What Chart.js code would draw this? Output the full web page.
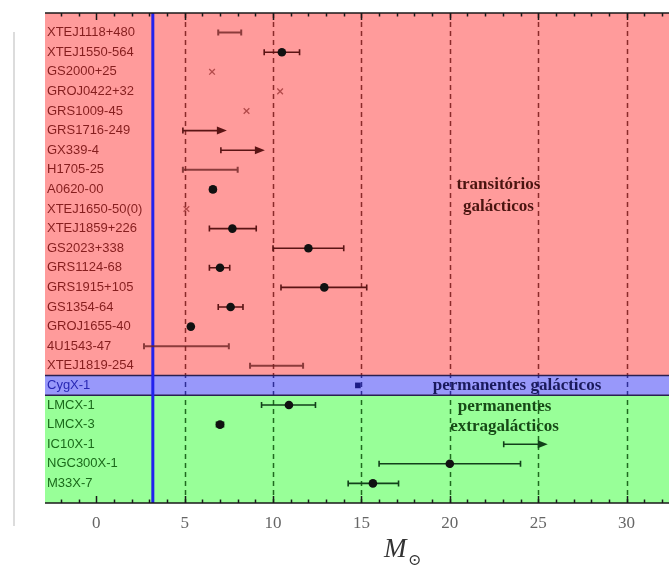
<!DOCTYPE html>
<html>
<head>
<meta charset="utf-8">
<script src="https://cdn.jsdelivr.net/npm/chart.js@4"></script>
<style>
  html, body { margin: 0; padding: 0; background: #fff; }
  #wrap { width: 669px; height: 572px; }
</style>
</head>
<body>
<div id="wrap"><canvas id="massChart" width="669" height="572"></canvas></div>
<script>
// Sources, top to bottom
const sources = ["XTEJ1118+480", "XTEJ1550-564", "GS2000+25", "GROJ0422+32", "GRS1009-45",
  "GRS1716-249", "GX339-4", "H1705-25", "A0620-00", "XTEJ1650-50(0)", "XTEJ1859+226",
  "GS2023+338", "GRS1124-68", "GRS1915+105", "GS1354-64", "GROJ1655-40", "4U1543-47",
  "XTEJ1819-254", "CygX-1", "LMCX-1", "LMCX-3", "IC10X-1", "NGC300X-1", "M33X-7"];
// rows per group: galactic transients, galactic persistent, extragalactic persistent
const groupSizes = [18, 1, 5];
const groupNames = [["transitórios", "galácticos"], ["permanentes galácticos"], ["permanentes", "extragalácticos"]];

// masses in solar masses (null = none)
const massBest = [null, 10.5, null, null, null, null, null, null, 6.6, null, 7.7,
  12.0, 7.0, 12.9, 7.6, 5.35, null, null, 14.8, 10.9, 7.0, null, 20.0, 15.65];
const massLow = [6.9, 9.5, null, null, null, null, null, 4.9, 6.45, null, 6.4,
  10.0, 6.4, 10.45, 6.9, 5.25, 2.7, 8.7, null, 9.35, 6.8, null, 16.0, 14.25];
const massHigh = [8.2, 11.5, null, null, null, null, null, 8.0, 6.75, null, 9.05,
  14.0, 7.55, 15.3, 8.3, 5.45, 7.5, 11.7, null, 12.4, 7.2, null, 24.0, 17.1];
// rough estimates (x marks)
const massRough = [null, null, 6.55, 10.4, 8.5, null, null, null, null, 5.1, null,
  null, null, null, null, null, null, null, null, null, null, null, null, null];
// lower limits (arrows)
const massLowerLimit = [null, null, null, null, null, 4.9, 7.05, null, null, null, null,
  null, null, null, null, null, null, null, null, null, null, 23.05, null, null];
// maximum neutron star mass
const nsMaxMass = 3.2;
const xTicks = [0, 5, 10, 15, 20, 25, 30];

// styles
const bandColors = ["#ff9b9b", "#9898fa", "#98ff98"];
const labelColors = ["#851e1e", "#2828b4", "#1b6a1b"];
const dashColors = ["#8a2a2a", "#2e2e96", "#1f6a1f"];
const barColors = ["#5a1414", "#14145a", "#12401a"];
const textColors = ["#4a1510", "#1a1a5c", "#174a17"];

function groupOf(i) {
  let acc = 0;
  for (let g = 0; g < groupSizes.length; g++) {
    acc += groupSizes[g];
    if (i < acc) return g;
  }
  return groupSizes.length - 1;
}

function toPoints(arr) {
  const out = [];
  arr.forEach((m, i) => { if (m != null) out.push({ x: m, y: i }); });
  return out;
}

const decor = {
  id: "decor",
  beforeDraw(chart) {
    const { ctx, chartArea: a, scales: { x, y } } = chart;
    ctx.save();
    // faint line at far left
    ctx.strokeStyle = "#dcdcdc";
    ctx.lineWidth = 2;
    ctx.beginPath(); ctx.moveTo(14, 32); ctx.lineTo(14, 526); ctx.stroke();

    // group bands
    let start = 0;
    const edges = [];
    groupSizes.forEach((n, g) => {
      const top = g === 0 ? a.top : y.getPixelForValue(start - 0.5);
      const bot = g === groupSizes.length - 1 ? a.bottom : y.getPixelForValue(start + n - 0.5);
      edges.push([top, bot]);
      ctx.fillStyle = bandColors[g];
      ctx.fillRect(a.left, top, a.right - a.left, bot - top);
      start += n;
    });

    // dashed verticals, coloured per band
    edges.forEach(([top, bot], g) => {
      ctx.save();
      ctx.beginPath(); ctx.rect(a.left, top, a.right - a.left, bot - top); ctx.clip();
      ctx.strokeStyle = dashColors[g];
      ctx.lineWidth = 1.5;
      ctx.setLineDash([5, 4]);
      xTicks.forEach(v => {
        if (v === 0) return;
        const px = Math.round(x.getPixelForValue(v)) + 0.5;
        ctx.beginPath(); ctx.moveTo(px, a.top); ctx.lineTo(px, a.bottom); ctx.stroke();
      });
      ctx.restore();
    });

    // band boundaries
    ctx.strokeStyle = "#2a2050";
    ctx.lineWidth = 1.5;
    edges.slice(1).forEach(([top]) => {
      ctx.beginPath(); ctx.moveTo(a.left, top); ctx.lineTo(a.right, top); ctx.stroke();
    });
    ctx.restore();
  },
  beforeDatasetsDraw(chart) {
    const { ctx, chartArea: a, scales: { x, y } } = chart;
    ctx.save();
    // neutron star limit
    const nx = x.getPixelForValue(nsMaxMass);
    ctx.strokeStyle = "#2222ee";
    ctx.lineWidth = 3;
    ctx.beginPath(); ctx.moveTo(nx, a.top); ctx.lineTo(nx, a.bottom); ctx.stroke();

    // error bars / ranges
    sources.forEach((s, i) => {
      if (massLow[i] == null) return;
      const g = groupOf(i);
      const py = y.getPixelForValue(i);
      const x0 = x.getPixelForValue(massLow[i]);
      const x1 = x.getPixelForValue(massHigh[i]);
      const rangeOnly = massBest[i] == null;
      ctx.strokeStyle = rangeOnly ? "rgba(110,35,35,0.8)" : barColors[g];
      ctx.lineWidth = rangeOnly ? 2 : 1.6;
      ctx.beginPath();
      ctx.moveTo(x0, py); ctx.lineTo(x1, py);
      ctx.moveTo(x0, py - 3); ctx.lineTo(x0, py + 3);
      ctx.moveTo(x1, py - 3); ctx.lineTo(x1, py + 3);
      ctx.stroke();
    });

    // lower limits
    sources.forEach((s, i) => {
      if (massLowerLimit[i] == null) return;
      const g = groupOf(i);
      const py = y.getPixelForValue(i);
      const x0 = x.getPixelForValue(massLowerLimit[i]);
      const x1 = x0 + 44;
      ctx.strokeStyle = barColors[g];
      ctx.fillStyle = barColors[g];
      ctx.lineWidth = 1.6;
      ctx.beginPath();
      ctx.moveTo(x0, py); ctx.lineTo(x1 - 8, py);
      ctx.moveTo(x0, py - 3); ctx.lineTo(x0, py + 3);
      ctx.stroke();
      ctx.beginPath();
      ctx.moveTo(x1, py); ctx.lineTo(x1 - 10, py - 4); ctx.lineTo(x1 - 10, py + 4);
      ctx.closePath(); ctx.fill();
    });

    // frame and ticks top / bottom
    ctx.strokeStyle = "#1a1a1a";
    ctx.lineWidth = 1.5;
    ctx.beginPath();
    ctx.moveTo(a.left, a.top); ctx.lineTo(a.right, a.top);
    ctx.moveTo(a.left, a.bottom); ctx.lineTo(a.right, a.bottom);
    for (let v = Math.ceil(x.min); v <= Math.floor(x.max); v++) {
      const px = Math.round(x.getPixelForValue(v)) + 0.5;
      const len = v % 5 === 0 ? 7 : 3.5;
      ctx.moveTo(px, a.top); ctx.lineTo(px, a.top + len);
      ctx.moveTo(px, a.bottom); ctx.lineTo(px, a.bottom - len);
    }
    ctx.stroke();
    ctx.restore();
  },
  afterDraw(chart) {
    const { ctx, scales: { x, y } } = chart;
    ctx.save();
    ctx.textAlign = "center";
    ctx.textBaseline = "middle";
    // group annotations
    const notes = [
      { g: 0, at: [22.75, 7.77], lh: 1.12 },
      { g: 1, at: [23.8, 18.0], lh: 1 },
      { g: 2, at: [23.1, 19.1], lh: 1.02 }
    ];
    ctx.font = 'bold 17px "Liberation Serif"';
    notes.forEach(n => {
      ctx.fillStyle = textColors[n.g];
      groupNames[n.g].forEach((t, k) => {
        ctx.fillText(t, x.getPixelForValue(n.at[0]), y.getPixelForValue(n.at[1] + k * n.lh));
      });
    });
    // axis title M_sun
    ctx.fillStyle = "#333";
    ctx.textAlign = "left";
    ctx.font = 'italic 27px "Liberation Serif"';
    ctx.fillText("M", 384, 550);
    ctx.font = '16px "DejaVu Serif"';
    ctx.fillText("\u2299", 408, 561);
    ctx.restore();
  }
};

const ctx = document.getElementById("massChart").getContext("2d");
new Chart(ctx, {
  type: "scatter",
  data: {
    datasets: [
      {
        label: "best",
        data: toPoints(massBest),
        pointStyle: c => groupOf(c.raw.y) === 1 ? "rect" : "circle",
        pointRadius: c => groupOf(c.raw.y) === 1 ? 4 : 4.3,
        backgroundColor: c => groupOf(c.raw.y) === 1 ? "#1c1c86" : "#111",
        borderWidth: 0
      },
      {
        label: "rough",
        data: toPoints(massRough),
        pointStyle: "crossRot",
        pointRadius: 4,
        borderColor: "#b24a4a",
        borderWidth: 1.3
      }
    ]
  },
  options: {
    responsive: false,
    devicePixelRatio: 1,
    animation: false,
    layout: { autoPadding: false, padding: { top: 13, left: 0, right: 0, bottom: 0 } },
    plugins: { legend: { display: false }, tooltip: { enabled: false } },
    scales: {
      x: {
        type: "linear",
        position: "bottom",
        min: -2.9,
        max: 32.4,
        afterFit: s => { s.height = 69; },
        afterBuildTicks: s => { s.ticks = xTicks.map(v => ({ value: v })); },
        ticks: {
          color: "#666",
          font: { family: "Liberation Serif", size: 17 },
          padding: 2,
          maxRotation: 0,
          autoSkip: false,
          callback: v => String(v)
        },
        grid: { display: false },
        border: { display: false }
      },
      y: {
        type: "linear",
        reverse: true,
        min: -1,
        max: 24,
        afterFit: s => { s.width = 45; },
        ticks: {
          mirror: true,
          stepSize: 1,
          autoSkip: false,
          padding: 2,
          font: { family: "Liberation Sans", size: 13 },
          color: c => labelColors[groupOf(c.tick.value)],
          callback: v => sources[v] || ""
        },
        grid: { display: false },
        border: { display: false }
      }
    }
  },
  plugins: [decor]
});
</script>
</body>
</html>
